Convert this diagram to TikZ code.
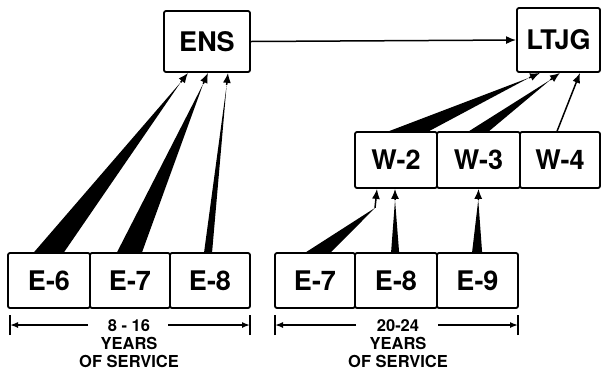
\documentclass[tikz,border=0pt]{standalone}
\usepackage{fontspec}
\setmainfont{TeX Gyre Heros}
\usetikzlibrary{arrows.meta,calc}
\begin{document}
\begin{tikzpicture}[x=1pt,y=-1pt,
 box/.style={draw,line width=1.8pt,rounded corners=2pt,inner sep=0pt,minimum height=56pt,font=\fontsize{27}{27}\selectfont\bfseries},
 arr/.style={line width=1.5pt,-{Latex[length=10pt,width=8pt]}},
 dimarr/.style={line width=1.5pt,-{Latex[length=8pt,width=6pt]}},
 bar/.style={line width=1.5pt},
 dim/.style={font=\fontsize{16.5}{18}\selectfont\bfseries,align=center,inner sep=0pt,anchor=north}]
\useasboundingbox (0,0) rectangle (603,376);
% top boxes
\node[box,minimum width=86pt,minimum height=61pt] (ens) at (207,41.5) {ENS};
\node[box,minimum width=83pt,minimum height=64pt] (ltjg) at (558.5,40) {LTJG};
% W boxes
\node[box,minimum width=82pt] (w2) at (396,160) {W-2};
\node[box,minimum width=83pt] (w3) at (478.5,160) {W-3};
\node[box,minimum width=80pt] (w4) at (560,160) {W-4};
% left E boxes
\node[box,minimum width=82pt,minimum height=55pt] (e6) at (49,280.5) {E-6};
\node[box,minimum width=80pt,minimum height=55pt] (e7) at (130,280.5) {E-7};
\node[box,minimum width=80pt,minimum height=55pt] (e8) at (210,280.5) {E-8};
% right E boxes
\node[box,minimum width=80pt,minimum height=55pt] (f7) at (315,280.5) {E-7};
\node[box,minimum width=82pt,minimum height=55pt] (f8) at (396,280.5) {E-8};
\node[box,minimum width=81pt,minimum height=55pt] (f9) at (477.5,280.5) {E-9};
% ENS -> LTJG
\draw[arr] (ens.east) -- (ltjg.west);
% wedges to ENS
\coordinate (h1) at ([xshift=-19pt]ens.south);
\coordinate (h2) at ([xshift=1pt]ens.south);
\coordinate (h3) at ([xshift=21pt]ens.south);
\coordinate (a1) at ([xshift=27pt]e6.north west);
\coordinate (b1) at ([xshift=57pt]e6.north west);
\coordinate (a2) at ([xshift=28pt]e7.north west);
\coordinate (b2) at ([xshift=53pt]e7.north west);
\coordinate (a3) at ([xshift=35pt]e8.north west);
\coordinate (b3) at ([xshift=43pt]e8.north west);
\coordinate (t1) at ($(h1)!12pt!($(a1)!0.5!(b1)$)$);
\coordinate (t2) at ($(h2)!12pt!($(a2)!0.5!(b2)$)$);
\coordinate (t3) at ($(h3)!12pt!($(a3)!0.5!(b3)$)$);
\fill (a1) -- (b1) -- (t1) -- cycle;
\fill (a2) -- (b2) -- (t2) -- cycle;
\fill (a3) -- (b3) -- (t3) -- cycle;
\draw[arr] (t1) -- (h1);
\draw[arr] (t2) -- (h2);
\draw[arr] (t3) -- (h3);
% wedges to LTJG
\coordinate (k1) at ([xshift=-18.5pt]ltjg.south);
\coordinate (k2) at ([xshift=1.5pt]ltjg.south);
\coordinate (k3) at ([xshift=21.5pt]ltjg.south);
\coordinate (c1) at ([xshift=35pt]w2.north west);
\coordinate (d1) at ([xshift=75pt]w2.north west);
\coordinate (c2) at ([xshift=33pt]w3.north west);
\coordinate (d2) at ([xshift=53pt]w3.north west);
\coordinate (c3) at ([xshift=38pt]w4.north west);
\coordinate (s1) at ($(k1)!12pt!($(c1)!0.5!(d1)$)$);
\coordinate (s2) at ($(k2)!12pt!($(c2)!0.5!(d2)$)$);
\fill (c1) -- (d1) -- (s1) -- cycle;
\fill (c2) -- (d2) -- (s2) -- cycle;
\draw[arr] (s1) -- (k1);
\draw[arr] (s2) -- (k2);
\draw[arr] (c3) -- (k3);
% wedges to W-2, W-3
\coordinate (m1) at ([xshift=-19pt]w2.south);
\coordinate (m2) at ([xshift=-1pt]w2.south);
\coordinate (m3) at (w3.south);
\coordinate (p1) at ([xshift=32pt]f7.north west);
\coordinate (q1) at ([xshift=57pt]f7.north west);
\coordinate (p2) at ([xshift=37pt]f8.north west);
\coordinate (q2) at ([xshift=45pt]f8.north west);
\coordinate (p3) at ([xshift=36pt]f9.north west);
\coordinate (q3) at ([xshift=46pt]f9.north west);
\coordinate (r1) at ([xshift=-2pt,yshift=-19pt]m1);
\coordinate (r2) at ($(m2)!11pt!($(p2)!0.5!(q2)$)$);
\coordinate (r3) at ($(m3)!11pt!($(p3)!0.5!(q3)$)$);
\fill (p1) -- (q1) -- (r1) -- cycle;
\fill (p2) -- (q2) -- (r2) -- cycle;
\fill (p3) -- (q3) -- (r3) -- cycle;
\draw[arr] (r1) -- (m1);
\draw[arr] (r2) -- (m2);
\draw[arr] (r3) -- (m3);
% dimension left
\node[dim] (n1) at (129,319) {8 - 16\\YEARS\\OF SERVICE};
\coordinate (dl1) at (10,325);
\coordinate (dr1) at (250,325);
\coordinate (gl1) at (88,325);
\coordinate (gr1) at (168,325);
\draw[bar] ([yshift=-10pt]dl1) -- ([yshift=10pt]dl1);
\draw[bar] ([yshift=-10pt]dr1) -- ([yshift=10pt]dr1);
\draw[dimarr] (gl1) -- (dl1);
\draw[dimarr] (gr1) -- (dr1);
% dimension right
\node[dim] (n2) at (398,319) {20-24\\YEARS\\OF SERVICE};
\coordinate (dl2) at (275,325);
\coordinate (dr2) at (518,325);
\coordinate (gl2) at (356,325);
\coordinate (gr2) at (438,325);
\draw[bar] ([yshift=-10pt]dl2) -- ([yshift=10pt]dl2);
\draw[bar] ([yshift=-10pt]dr2) -- ([yshift=10pt]dr2);
\draw[dimarr] (gl2) -- (dl2);
\draw[dimarr] (gr2) -- (dr2);
\end{tikzpicture}
\end{document}
